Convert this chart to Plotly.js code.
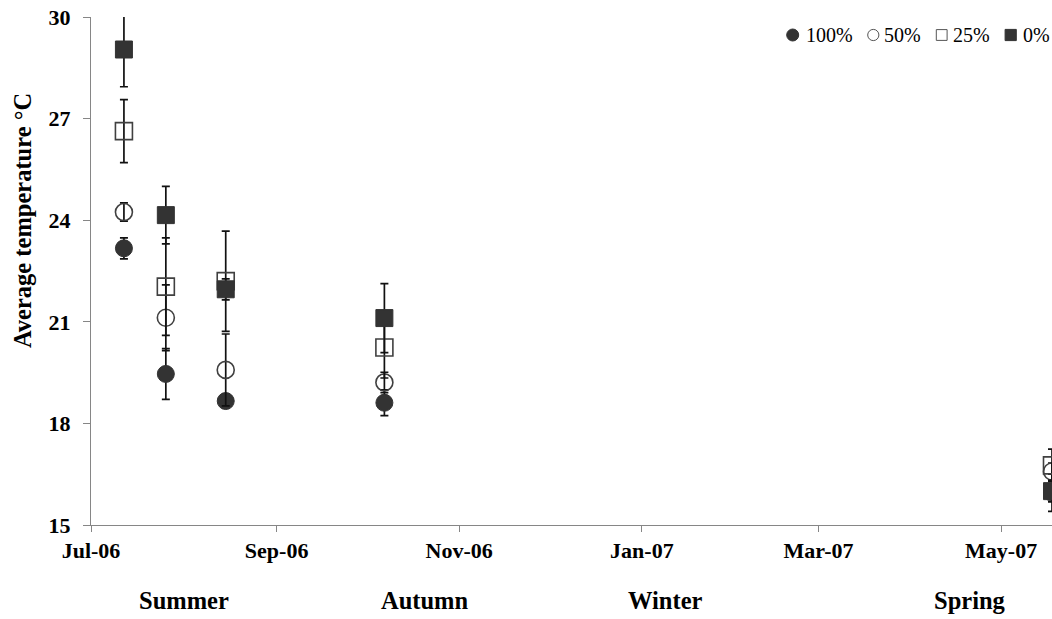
<!DOCTYPE html>
<html>
<head>
<meta charset="utf-8">
<script src="https://cdn.plot.ly/plotly-3.0.1.min.js"></script>
<style>html,body{margin:0;padding:0;background:#fff;}#chart{width:1052px;height:619px;}</style>
</head>
<body>
<div id="chart"></div>
<script>
// ---- data ----
var sampleDates = ['2006-07-12', '2006-07-26', '2006-08-15', '2006-10-07', '2007-05-18'];
var shade100 = [23.17, 19.46, 18.66, 18.61, 15.95];
var err100   = [0.31, 0.75, 0.20, 0.38, 0.55];
var shade50  = [24.24, 21.12, 19.58, 19.21, 16.58];
var err50    = [0.27, 0.97, 1.06, 0.30, 0.25];
var shade25  = [26.63, 22.04, 22.20, 20.24, 16.76];
var err25    = [0.93, 1.44, 1.48, 0.90, 0.48];
var shade0   = [29.04, 24.15, 21.96, 21.11, 16.00];
var err0     = [1.10, 0.85, 0.31, 1.02, 0.32];
var seriesNames = ['100%', '50%', '25%', '0%'];
var tickDates = ['2006-07-01', '2006-09-01', '2006-11-01', '2007-01-01', '2007-03-01', '2007-05-01'];
var tickLabels = ['Jul-06', 'Sep-06', 'Nov-06', 'Jan-07', 'Mar-07', 'May-07'];
var seasons = ['Summer', 'Autumn', 'Winter', 'Spring'];
var yTicks = [15, 18, 21, 24, 27, 30];

// ---- styles ----
var SERIF = 'Liberation Serif, Times New Roman, serif';
var DARK = '#333333';
var OUT = '#404040';
var L = 91, R = 1052, T = 17, B = 525;
function px(X) { return (X - L) / (R - L); }
function py(Y) { return (B - Y) / (B - T); }

function trace(name, y, err, symbol, filled) {
  return {
    type: 'scatter', mode: 'markers', name: name,
    x: sampleDates, y: y,
    error_y: {type: 'data', array: err, visible: true, color: '#111111', thickness: 1.7, width: 4},
    marker: {
      symbol: symbol, size: 17,
      color: filled ? DARK : OUT,
      line: {color: filled ? DARK : OUT, width: filled ? 1 : 1.6}
    },
    showlegend: false, cliponaxis: true
  };
}

var data = [
  trace(seriesNames[0], shade100, err100, 'circle', true),
  trace(seriesNames[1], shade50, err50, 'circle-open', false),
  trace(seriesNames[2], shade25, err25, 'square-open', false),
  trace(seriesNames[3], shade0, err0, 'square', true)
];

var annotations = [];
var shapes = [];

// y-axis title
annotations.push({
  text: 'Average temperature °C', xref: 'paper', yref: 'paper',
  x: px(23), y: py(221), xanchor: 'center', yanchor: 'middle', textangle: -90,
  showarrow: false, font: {family: SERIF, size: 24.5, weight: 'bold', color: '#000'}
});

// season labels
var seasonX = [184, 425, 665, 970];
seasons.forEach(function (s, i) {
  annotations.push({
    text: s, xref: 'paper', yref: 'paper', x: px(seasonX[i]), y: py(600),
    xanchor: 'center', yanchor: 'middle', showarrow: false,
    font: {family: SERIF, size: 24.5, weight: 'bold', color: '#000'}
  });
});

// legend (custom, Excel-like)
var legMarkX = [792.7, 873.3, 941.7, 1010.7];
var legTextX = [805, 883, 951.7, 1022];
var legY = 35;
var legSym = [
  {type: 'circle', fill: DARK, line: DARK, r: 6},
  {type: 'circle', fill: 'rgba(0,0,0,0)', line: '#555', r: 5.6},
  {type: 'rect', fill: 'rgba(0,0,0,0)', line: '#555', r: 5.4},
  {type: 'rect', fill: DARK, line: DARK, r: 5.6}
];
seriesNames.forEach(function (n, i) {
  var s = legSym[i];
  shapes.push({
    type: s.type, xref: 'paper', yref: 'paper', xsizemode: 'pixel', ysizemode: 'pixel',
    xanchor: px(legMarkX[i]), yanchor: py(legY),
    x0: -s.r, x1: s.r, y0: -s.r, y1: s.r,
    fillcolor: s.fill, line: {color: s.line, width: 1}
  });
  annotations.push({
    text: n, xref: 'paper', yref: 'paper', x: px(legTextX[i]), y: py(legY),
    xanchor: 'left', yanchor: 'middle', showarrow: false, borderpad: 0,
    font: {family: SERIF, size: 20, color: '#000'}
  });
});

var layout = {
  width: 1052, height: 619,
  margin: {l: L, r: 1052 - R, t: T, b: 619 - B, pad: 0},
  paper_bgcolor: '#ffffff', plot_bgcolor: '#ffffff',
  showlegend: false,
  xaxis: {
    type: 'date', range: ['2006-07-01', '2007-05-18'],
    tickvals: tickDates, ticktext: tickLabels,
    showgrid: false, zeroline: false,
    showline: true, linecolor: '#868686', linewidth: 1,
    ticks: 'outside', ticklen: 6, tickcolor: '#868686', tickwidth: 1,
    tickfont: {family: SERIF, size: 22, weight: 'bold', color: '#000'},
    fixedrange: true
  },
  yaxis: {
    range: [15, 30], tickvals: yTicks,
    showgrid: false, zeroline: false,
    showline: true, linecolor: '#868686', linewidth: 1,
    ticks: 'outside', ticklen: 7, tickcolor: '#868686', tickwidth: 1,
    tickfont: {family: SERIF, size: 22, weight: 'bold', color: '#000'},
    ticklabelstandoff: 8,
    fixedrange: true
  },
  annotations: annotations,
  shapes: shapes
};

Plotly.newPlot('chart', data, layout, {staticPlot: true, displayModeBar: false});
</script>
</body>
</html>
